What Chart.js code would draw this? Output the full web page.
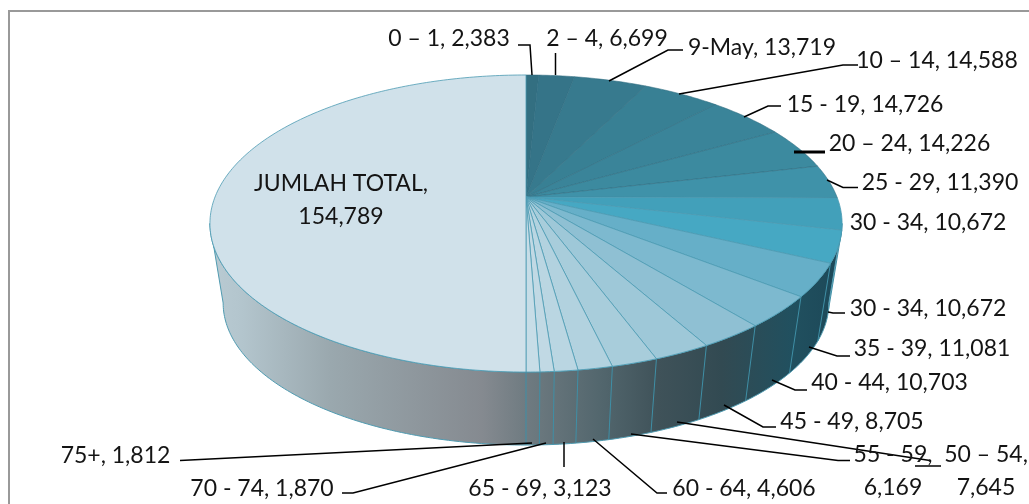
<!DOCTYPE html>
<html>
<head>
<meta charset="utf-8">
<title>Jumlah total</title>
<script src="https://cdn.jsdelivr.net/npm/chart.js@4"></script>
<style>
  html, body { margin: 0; padding: 0; background: #fff; overflow: hidden; }
  #frame { position: absolute; left: 8px; top: 10px; right: 0; bottom: 0; border-left: 2px solid #999; border-top: 2px solid #999; }
  #myChart { position: absolute; left: 0; top: 0; }
</style>
</head>
<body>
<div id="frame"></div>
<canvas id="myChart" width="1029" height="504"></canvas>
<script>
const categories = ['0 – 1', '2 – 4', '9-May', '10 – 14', '15 - 19', '20 – 24', '25 - 29', '30 - 34', '30 - 34',
  '35 - 39', '40 - 44', '45 - 49', '50 – 54', '55 - 59', '60 - 64', '65 - 69', '70 - 74', '75+', 'JUMLAH TOTAL'];
const values = [2383, 6699, 13719, 14588, 14726, 14226, 11390, 10672, 10672,
  11081, 10703, 8705, 7645, 6169, 4606, 3123, 1870, 1812, 154789];
const sliceColors = ['#336f81', '#357488', '#377a8e', '#388094', '#3a8499', '#3c8a9f', '#3f92a9', '#42a0ba', '#46a8c3',
  '#66afc8', '#7db9cf', '#8fc0d3', '#9ec8d8', '#a8cddb', '#b2d2df', '#bad6e2', '#c1d9e4', '#c7dde7', '#d0e1ea'];

// where each label sits and how its leader runs, same order as categories
const labelSpots = [
  { x: 449, y: 39, leader: [[532, 75], [530, 45], [518, 45]] },
  { x: 607, y: 39, leader: [[555.5, 75], [555.5, 53]] },
  { x: 762, y: 48, leader: [[609, 81], [668, 50], [683, 50]] },
  { x: 937, y: 61, leader: [[679, 94], [843, 65], [858, 65]] },
  { x: 865, y: 105, leader: [[744, 117], [768, 106], [781, 106]] },
  { x: 909.5, y: 144, leader: [[794, 152], [825, 152]], thick: true },
  { x: 940, y: 183, leader: [[827, 180], [843, 187.5], [858, 187.5]] },
  { x: 928, y: 223 },
  { x: 928, y: 309, leader: [[828, 312], [833, 313], [845, 313]] },
  { x: 932, y: 349, leader: [[809, 347], [837, 356], [850, 356]] },
  { x: 889.5, y: 383, leader: [[772, 380], [795, 390], [807, 390]] },
  { x: 852, y: 422, leader: [[724, 405], [763, 427], [776, 427]] },
  { x: 986, y: 455, split: true, leader: [[677, 422], [930, 460.5]], under: [[915, 466], [941, 466]] },
  { x: 893, y: 455, split: true, leader: [[631, 434], [838, 460.5], [850, 460.5]] },
  { x: 744, y: 489, leader: [[593, 439], [657, 493], [667, 493]] },
  { x: 540, y: 489, leader: [[564, 442], [564, 467]] },
  { x: 262, y: 489, leader: [[546, 443], [353, 493], [342, 493]] },
  { x: 115.5, y: 456, leader: [[532, 443], [180, 460.5]] },
  { x: 341, y: 184, split: true }
];

// The pie lies in perspective: a flat circle seen through a projective map.
// Chart.js still works out every slice angle, this only decides where they land.
const TILT = -0.1784;
const topPlane = { a: 311, b: 143.8, cy: 197 };
const bottomPlane = { a: 298, b: 137.5, cy: 277.7 };

function project(plane, cx, angle) {
  const u = Math.cos(angle), v = Math.sin(angle);
  const w = 1 + TILT * v;
  return [cx + plane.a * u / w, plane.cy + plane.b * v / w];
}

function addCommas(n) {
  return n.toLocaleString('en-US');
}

const piePlugin = {
  id: 'perspectivePie',
  beforeDatasetDraw(chart) {
    const arcs = chart.getDatasetMeta(0).data;
    const ctx = chart.ctx;
    const cx = arcs[0].x;

    // side wall, running between the widest points of both rims
    const grad = ctx.createLinearGradient(210, 0, 842, 0);
    grad.addColorStop(0, '#b9cbd3');
    grad.addColorStop(0.05, '#b3c5cd');
    grad.addColorStop(0.19, '#9aa8ae');
    grad.addColorStop(0.43, '#858a90');
    grad.addColorStop(0.5, '#6f7b81');
    grad.addColorStop(0.62, '#52666d');
    grad.addColorStop(0.71, '#3f5259');
    grad.addColorStop(0.81, '#324a52');
    grad.addColorStop(0.92, '#21505f');
    grad.addColorStop(1, '#1c4858');

    const widest = Math.asin(-TILT);
    const wallSteps = 180;
    ctx.save();
    ctx.beginPath();
    for (let i = 0; i <= wallSteps; i++) {
      const p = project(bottomPlane, cx, widest + (Math.PI - 2 * widest) * i / wallSteps);
      ctx.lineTo(p[0], p[1]);
    }
    for (let i = wallSteps; i >= 0; i--) {
      const p = project(topPlane, cx, widest + (Math.PI - 2 * widest) * i / wallSteps);
      ctx.lineTo(p[0], p[1]);
    }
    ctx.closePath();
    ctx.fillStyle = grad;
    ctx.fill();
    ctx.strokeStyle = '#4f9ab0';
    ctx.lineWidth = 1;
    ctx.stroke();

    // slice edges running down the wall
    ctx.strokeStyle = '#3f8fa6';
    arcs.forEach(arc => {
      if (Math.sin(arc.endAngle) <= Math.sin(widest)) return;
      const p = project(topPlane, cx, arc.endAngle);
      const q = project(bottomPlane, cx, arc.endAngle);
      ctx.beginPath();
      ctx.moveTo(p[0], p[1]);
      ctx.lineTo(q[0], q[1]);
      ctx.stroke();
    });

    // top face, one wedge per arc element
    arcs.forEach((arc, i) => {
      const steps = Math.max(2, Math.ceil((arc.endAngle - arc.startAngle) * 60));
      ctx.beginPath();
      ctx.moveTo(cx, topPlane.cy);
      for (let s = 0; s <= steps; s++) {
        const p = project(topPlane, cx, arc.startAngle + (arc.endAngle - arc.startAngle) * s / steps);
        ctx.lineTo(p[0], p[1]);
      }
      ctx.closePath();
      ctx.fillStyle = sliceColors[i];
      ctx.fill();
      ctx.strokeStyle = i < 7 ? 'rgba(46,108,128,0.7)' : '#4b9ab2';
      ctx.lineWidth = 0.8;
      ctx.stroke();
    });
    ctx.restore();
    return false;
  }
};

const labelPlugin = {
  id: 'sliceLabels',
  afterDraw(chart) {
    const ctx = chart.ctx;
    ctx.save();
    ctx.font = '23px Lato';
    ctx.fillStyle = '#141414';
    ctx.textAlign = 'center';
    ctx.textBaseline = 'middle';
    labelSpots.forEach((spot, i) => {
      ctx.strokeStyle = '#000';
      if (spot.leader) {
        ctx.beginPath();
        spot.leader.forEach((p, j) => j ? ctx.lineTo(p[0], p[1]) : ctx.moveTo(p[0], p[1]));
        ctx.lineWidth = spot.thick ? 3 : 1.5;
        ctx.stroke();
      }
      if (spot.under) {
        ctx.beginPath();
        ctx.moveTo(spot.under[0][0], spot.under[0][1]);
        ctx.lineTo(spot.under[1][0], spot.under[1][1]);
        ctx.lineWidth = 1.5;
        ctx.stroke();
      }
      if (spot.split) {
        ctx.fillText(categories[i] + ',', spot.x, spot.y);
        ctx.fillText(addCommas(values[i]), spot.x, spot.y + 33);
      } else {
        ctx.fillText(categories[i] + ', ' + addCommas(values[i]), spot.x, spot.y);
      }
    });
    ctx.restore();
  }
};

const ctx = document.getElementById('myChart').getContext('2d');
new Chart(ctx, {
  type: 'pie',
  data: {
    labels: categories,
    datasets: [{
      data: values,
      backgroundColor: sliceColors,
      borderWidth: 0,
      clip: false
    }]
  },
  options: {
    responsive: false,
    animation: false,
    events: [],
    layout: { padding: { top: 75, bottom: 132, left: 23, right: 0 } },
    plugins: {
      legend: { display: false },
      tooltip: { enabled: false }
    }
  },
  plugins: [piePlugin, labelPlugin]
});
</script>
</body>
</html>
